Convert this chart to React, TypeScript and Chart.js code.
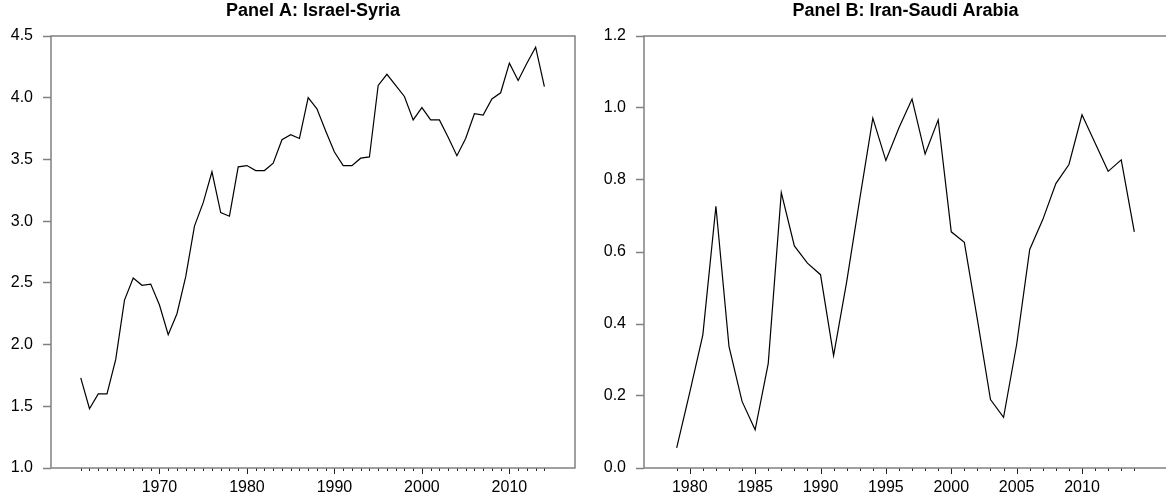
import React, { useEffect, useRef } from "react";
import { Chart, registerables } from "chart.js";

Chart.register(...registerables);

// ---------------- Data ----------------
const yearsA = [
  1961, 1962, 1963, 1964, 1965, 1966, 1967, 1968, 1969, 1970,
  1971, 1972, 1973, 1974, 1975, 1976, 1977, 1978, 1979, 1980,
  1981, 1982, 1983, 1984, 1985, 1986, 1987, 1988, 1989, 1990,
  1991, 1992, 1993, 1994, 1995, 1996, 1997, 1998, 1999, 2000,
  2001, 2002, 2003, 2004, 2005, 2006, 2007, 2008, 2009, 2010,
  2011, 2012, 2013, 2014,
];
const valuesA = [
  1.73, 1.48, 1.6, 1.6, 1.88, 2.36, 2.54, 2.48, 2.49, 2.32,
  2.08, 2.25, 2.55, 2.96, 3.15, 3.4, 3.07, 3.04, 3.44, 3.45,
  3.41, 3.41, 3.47, 3.66, 3.7, 3.67, 4.0, 3.91, 3.73, 3.56,
  3.45, 3.45, 3.51, 3.52, 4.1, 4.19, 4.1, 4.01, 3.82, 3.92,
  3.82, 3.82, 3.68, 3.53, 3.67, 3.87, 3.86, 3.99, 4.04, 4.28,
  4.14, 4.28, 4.41, 4.09,
];
const xLabelsA = [1970, 1980, 1990, 2000, 2010];
const yTicksA = [1.0, 1.5, 2.0, 2.5, 3.0, 3.5, 4.0, 4.5];

const yearsB = [
  1979, 1980, 1981, 1982, 1983, 1984, 1985, 1986, 1987, 1988,
  1989, 1990, 1991, 1992, 1993, 1994, 1995, 1996, 1997, 1998,
  1999, 2000, 2001, 2002, 2003, 2004, 2005, 2006, 2007, 2008,
  2009, 2010, 2011, 2012, 2013, 2014,
];
const valuesB = [
  0.056, 0.21, 0.37, 0.727, 0.338, 0.185, 0.106, 0.29, 0.765, 0.617,
  0.569, 0.537, 0.312, 0.517, 0.747, 0.972, 0.854, 0.945, 1.025, 0.872,
  0.967, 0.656, 0.627, 0.412, 0.19, 0.141, 0.343, 0.607, 0.69, 0.79,
  0.843, 0.981, 0.903, 0.824, 0.856, 0.656,
];
const xLabelsB = [1980, 1985, 1990, 1995, 2000, 2005, 2010];
const yTicksB = [0.0, 0.2, 0.4, 0.6, 0.8, 1.0, 1.2];

const FONT = "'Liberation Sans', Arial, Helvetica, sans-serif";

type PanelProps = {
  title: string;
  years: number[];
  values: number[];
  xLabels: number[];
  yTicks: number[];
  xMin: number;
  xMax: number;
  width: number;
  yAxisWidth: number;
  padRight: number;
  left: number;
};

function Panel(p: PanelProps) {
  const ref = useRef<HTMLCanvasElement | null>(null);
  useEffect(() => {
    if (!ref.current) return;
    const boxPlugin = {
      id: "boxAndTicks",
      afterDraw(chart: any) {
        const { ctx, chartArea: a } = chart;
        const x = chart.scales.x;
        ctx.save();
        // x tick marks (one per year, longer at labelled years)
        ctx.strokeStyle = "#222";
        ctx.lineWidth = 1;
        for (const yr of p.years) {
          const px = Math.round(x.getPixelForValue(yr)) + 0.5;
          const len = p.xLabels.includes(yr) ? 6 : 3;
          ctx.beginPath();
          ctx.moveTo(px, a.bottom);
          ctx.lineTo(px, a.bottom + len);
          ctx.stroke();
        }
        // box
        ctx.strokeStyle = "#808080";
        ctx.lineWidth = 1.5;
        ctx.strokeRect(a.left, a.top, a.right - a.left, a.bottom - a.top);
        // title
        ctx.fillStyle = "#000";
        ctx.font = `bold 18px ${FONT}`;
        ctx.textAlign = "center";
        ctx.textBaseline = "middle";
        ctx.fillText(p.title, (a.left + a.right) / 2, 11);
        ctx.restore();
      },
    };
    const chart = new Chart(ref.current, {
      type: "line",
      data: {
        datasets: [
          {
            data: p.years.map((yr, i) => ({ x: yr, y: p.values[i] })),
            borderColor: "#000",
            borderWidth: 1.2,
            pointRadius: 0,
            tension: 0,
            fill: false,
          },
        ],
      },
      options: {
        animation: false,
        responsive: false,
        maintainAspectRatio: false,
        layout: { padding: { left: 0, top: 36, right: p.padRight, bottom: 0 } },
        plugins: {
          legend: { display: false },
          tooltip: { enabled: false },
          title: { display: false },
        },
        scales: {
          x: {
            type: "linear",
            min: p.xMin,
            max: p.xMax,
            afterBuildTicks: (s: any) => {
              s.ticks = p.xLabels.map((v) => ({ value: v }));
            },
            afterFit: (s: any) => {
              s.height = 33;
            },
            grid: { display: false, drawTicks: false },
            border: { display: false },
            ticks: {
              autoSkip: false,
              maxRotation: 0,
              padding: 10,
              color: "#000",
              font: { family: FONT, size: 16 },
              callback: (v: any) => String(v),
            },
          },
          y: {
            min: p.yTicks[0],
            max: p.yTicks[p.yTicks.length - 1],
            afterBuildTicks: (s: any) => {
              s.ticks = p.yTicks.map((v) => ({ value: v }));
            },
            afterFit: (s: any) => {
              s.width = p.yAxisWidth;
            },
            grid: {
              display: true,
              drawOnChartArea: false,
              drawTicks: true,
              tickLength: 8,
              tickColor: "#808080",
              tickWidth: 1.5,
            },
            border: { display: false },
            ticks: {
              padding: 10,
              color: "#000",
              font: { family: FONT, size: 16 },
              callback: (v: any) => Number(v).toFixed(1),
            },
          },
        },
      },
      plugins: [boxPlugin],
    } as any);
    return () => chart.destroy();
  }, []);
  return (
    <canvas
      ref={ref}
      width={p.width}
      height={501}
      style={{ position: "absolute", left: p.left, top: 0, width: p.width, height: 501 }}
    />
  );
}

export default function App() {
  return (
    <div
      style={{
        position: "fixed",
        left: 0,
        top: 0,
        width: 1166,
        height: 501,
        overflow: "hidden",
        background: "#fff",
      }}
    >
      <Panel
        title="Panel A: Israel-Syria"
        years={yearsA}
        values={valuesA}
        xLabels={xLabelsA}
        yTicks={yTicksA}
        xMin={1957.6}
        xMax={2017.5}
        width={590}
        yAxisWidth={51}
        padRight={15}
        left={0}
      />
      <Panel
        title="Panel B: Iran-Saudi Arabia"
        years={yearsB}
        values={valuesB}
        xLabels={xLabelsB}
        yTicks={yTicksB}
        xMin={1976.5}
        xMax={2016.5}
        width={600}
        yAxisWidth={54}
        padRight={23}
        left={590}
      />
    </div>
  );
}
